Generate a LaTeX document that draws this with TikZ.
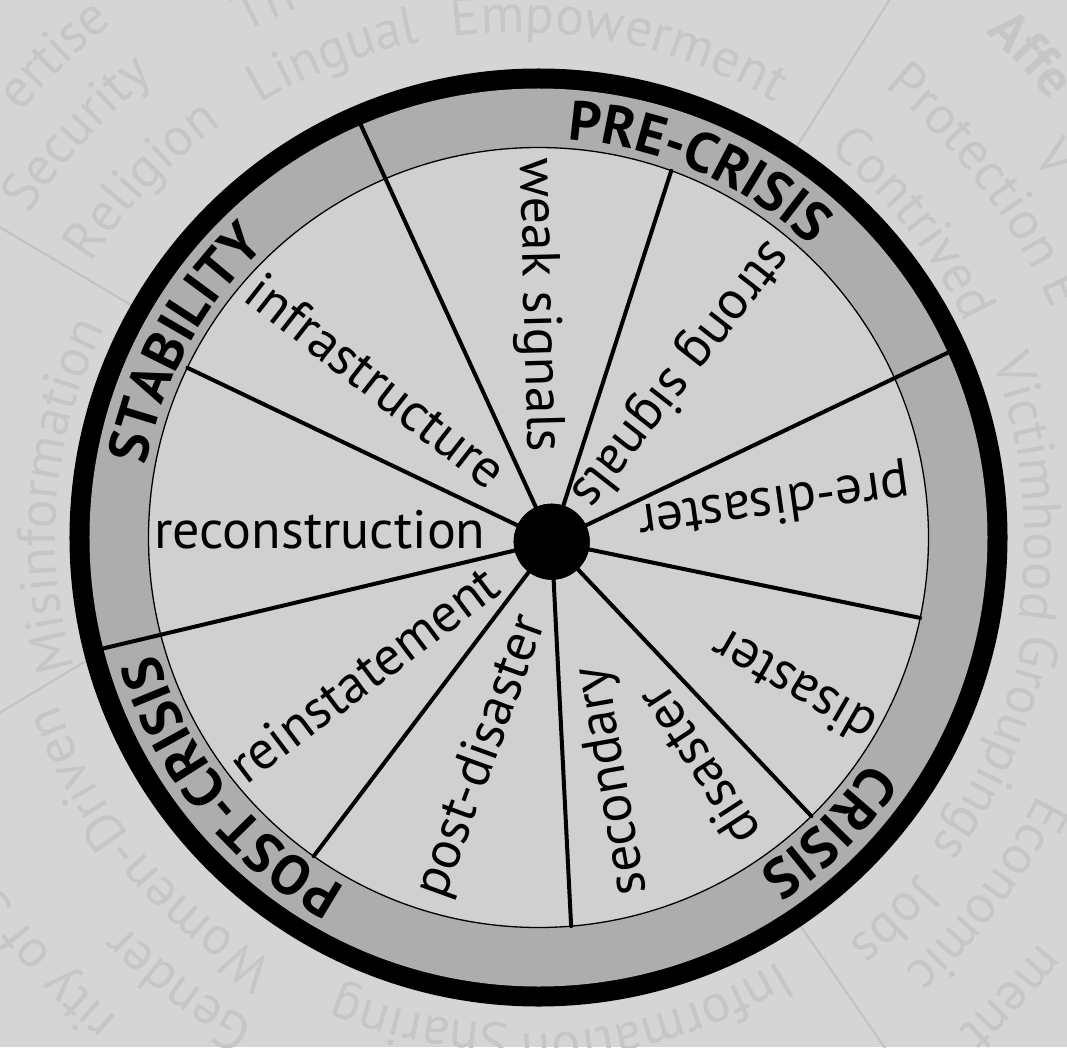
\documentclass[tikz,border=0pt]{standalone}
\usepackage{fontspec}
\setmainfont{PT Sans}
\usetikzlibrary{decorations.text}
\definecolor{bgc}{gray}{0.835}
\definecolor{diskc}{gray}{0.815}
\definecolor{bandc}{gray}{0.68}
\definecolor{faintc}{gray}{0.775}
\definecolor{faintlc}{gray}{0.76}
\newcommand\labfont{\fontsize{54}{58}\selectfont}
\newcommand\phasefont{\fontsize{56}{56}\bfseries\selectfont}
\newcommand\bgfont{\fontsize{54}{54}\selectfont\color{faintc}}
\newcommand\bgboldfont{\fontsize{54}{54}\bfseries\selectfont\color{faintc}}
% centre angle, baseline radius, text
\newcommand\bgarc[3]{\path[decorate,decoration={text along path,text align=center,text={|\bgfont|#3}}] (#1+60:#2) arc[start angle=#1+60,end angle=#1-60,radius=#2];}
\newcommand\bgboldarc[3]{\path[decorate,decoration={text along path,text align=center,text={|\bgboldfont|#3}}] (#1+60:#2) arc[start angle=#1+60,end angle=#1-60,radius=#2];}
\newcommand\phasearc[2]{\path[decorate,decoration={text along path,text align=center,text={|\phasefont|#2}}] (#1+50:399) arc[start angle=#1+50,end angle=#1-50,radius=399];}
\begin{document}
\begin{tikzpicture}[x=1pt,y=1pt,
  spoke/.style={line width=4pt,line cap=round},
  lab/.style={font=\labfont,inner sep=0pt,text height=40pt,text depth=12.5pt,anchor=center},
  faintline/.style={draw=faintlc,line width=2pt}]
\useasboundingbox (-538.5,-509.5) rectangle (528.5,537.5);
\clip (-538.5,-509.5) rectangle (528.5,537.5);
\fill[bgc] (-538.5,-509.5) rectangle (528.5,537.5);

% faint background wheel
\coordinate (l1a) at (-400,228);
\coordinate (l1b) at (-560,323);
\coordinate (l2a) at (252,381);
\coordinate (l2b) at (362,555);
\coordinate (l3a) at (259,-384);
\coordinate (l3b) at (360,-530);
\coordinate (l4a) at (-445,-119);
\coordinate (l4b) at (-545,-179);
\draw[faintline] (l1a) -- (l1b);
\draw[faintline] (l2a) -- (l2b);
\draw[faintline] (l3a) -- (l3b);
\draw[faintline] (l4a) -- (l4b);
\begin{scope}[shift={(-20,0)}]
\bgarc{174.8}{463}{Misinformation}
\bgarc{136.5}{508}{Religion}
\bgarc{111}{505}{Lingual}
\bgarc{78.5}{505}{Empowerment}
\bgarc{38.5}{496}{Contrived}
\bgarc{5.6}{506}{Victimhood}
\bgarc{-23.7}{515}{Groupings}
\bgarc{-45.6}{522}{Jobs}
\bgarc{-74}{497}{Information}
\bgarc{-101.5}{486}{Sharing}
\bgarc{-140}{490}{Women-Driven}
\bgarc{137.5}{587}{Security}
\bgarc{115.5}{574}{Th}
\bgarc{37}{580}{Protection E}
\bgarc{-37.3}{580}{Economic}
\bgarc{-127}{552}{Gender}
\bgarc{133.9}{655}{ertise}
\bgboldarc{43.3}{688}{Affe}
\bgarc{35.2}{640}{V}
\bgarc{-43}{660}{ment}
\bgarc{-138}{626}{rity of S}
\end{scope}

% wheel
\fill[black] (0,0) circle[radius=469];
\fill[bandc] (0,0) circle[radius=449];
\fill[diskc] (0,0) circle[radius=390];
\draw[line width=1.3pt] (0,0) circle[radius=390];

\node[circle,fill=black,minimum size=76pt,inner sep=0pt] (hub) at (13.2,-4.2) {};
\coordinate (eA) at (113.3:449);
\coordinate (eB) at (70.1:390);
\coordinate (eC) at (24.3:449);
\coordinate (eD) at (-11.9:390);
\coordinate (eE) at (-45.6:390);
\coordinate (eF) at (-85.2:390);
\coordinate (eG) at (-125.2:390);
\coordinate (eH) at (194.3:449);
\coordinate (eI) at (154.2:390);
\foreach \e in {eA,eB,eC,eD,eE,eF,eG,eH,eI}
  \draw[spoke] (hub.center) -- (\e);
\node[circle,fill=black,minimum size=76pt,inner sep=0pt] at (hub.center) {};

% sector labels
\node[lab,rotate=-88.5] (weak) at (-0.5,232.5) {weak signals};
\node[lab,rotate=-128] (strong) at (141.5,163.5) {strong signals};
\node[lab,rotate=188] (pre) at (235.5,36.5) {pre-disaster};
\node[lab,rotate=150] (dis) at (257,-145.5) {disaster};
\node[lab,rotate=100] (sec) at (74.5,-243.5) {secondary};
\node[lab,rotate=123] (secdis) at (163.5,-226.5) {disaster};
\node[lab,rotate=70] (post) at (-56.5,-219.5) {post-disaster};
\node[lab,rotate=37] (rein) at (-172,-140.5) {reinstatement};
\node[lab,rotate=0] (recon) at (-218.5,2.5) {reconstruction};
\node[lab,rotate=-38] (infra) at (-165,153) {infrastructure};

% phase labels on the band
\phasearc{66.4}{PRE-CRISIS}
\phasearc{-45.3}{CRISIS}
\phasearc{219}{POST-CRISIS}
\phasearc{151.3}{STABILITY}
\end{tikzpicture}
\end{document}
